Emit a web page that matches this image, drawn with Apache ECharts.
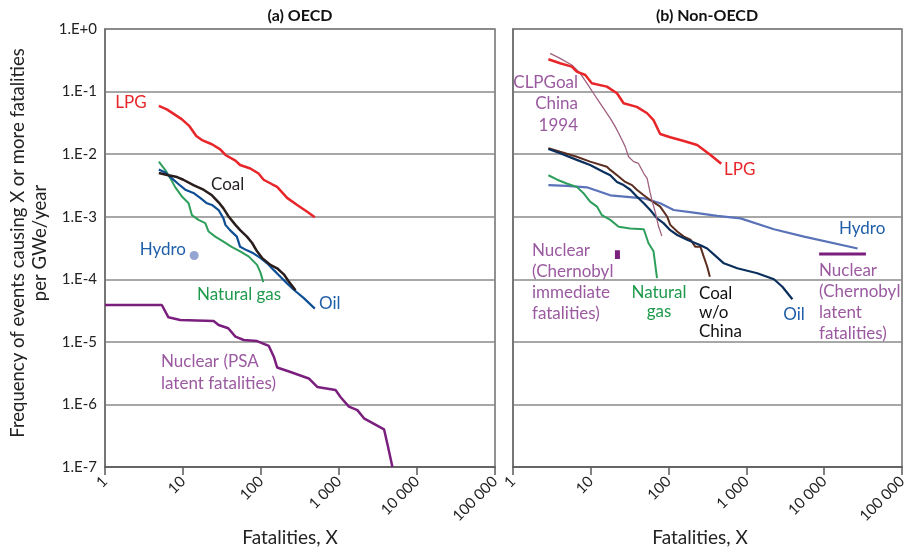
<!DOCTYPE html>
<html>
<head>
<meta charset="utf-8">
<script src="https://cdn.jsdelivr.net/npm/echarts@6/dist/echarts.min.js"></script>
<style>
  html, body { margin: 0; padding: 0; background: #fff; }
  #chart { width: 912px; height: 552px; }
</style>
</head>
<body>
<div id="chart"></div>
<script>
// values, [fatalities, frequency]
const oecdLpg = [[4.9, 0.059], [6.2, 0.052], [7.6, 0.044], [9.7, 0.036], [12.1, 0.028], [14.8, 0.0195], [17.5, 0.0168], [23.5, 0.0144], [30, 0.0119], [35, 0.0097], [47, 0.0079], [54, 0.0067], [73, 0.0059], [93, 0.0049], [108, 0.0039], [139, 0.0033], [161, 0.003], [216, 0.002], [291, 0.00154], [391, 0.0012], [490, 0.00098]]
const oecdCoal = [[4.9, 0.005], [6.5, 0.0046], [8.4, 0.0043], [10.1, 0.0039], [13.6, 0.0032], [18.3, 0.0027], [23.5, 0.0022], [28.6, 0.0017], [33, 0.00136], [38, 0.00103], [47, 0.00074], [54, 0.00061], [66, 0.00048], [77, 0.00038], [89, 0.00028], [103, 0.00022], [132, 0.00017], [161, 0.00015], [196, 0.00012], [227, 0.000092], [277, 0.000067]]
const oecdOil = [[4.9, 0.0057], [5.9, 0.0051], [7.2, 0.0041], [8.8, 0.0033], [10.7, 0.0027], [13.6, 0.0024], [16.6, 0.002], [20.3, 0.00164], [23.5, 0.00154], [28.6, 0.00128], [33, 0.00094], [35, 0.00074], [40, 0.00061], [49, 0.00048], [54, 0.00033], [66, 0.00029], [80, 0.00026], [98, 0.00022], [120, 0.00018], [146, 0.00014], [177, 0.00011], [216, 0.000086], [263, 0.000068], [354, 0.00005], [490, 0.000034]]
const oecdGas = [[4.9, 0.0076], [5.9, 0.0056], [6.9, 0.0041], [7.9, 0.003], [9.7, 0.0021], [11.8, 0.00164], [13, 0.00106], [15.8, 0.00089], [19.3, 0.00079], [21.3, 0.00058], [25.9, 0.00048], [33, 0.0004], [42, 0.00033], [54, 0.00028], [70, 0.00023], [89, 0.00017], [98, 0.00013], [107, 0.00009]]
const oecdHydro = [[13.9, 0.00024]]
const oecdNuclear = [[1, 0.0000388], [5.35, 0.0000388], [6.5, 0.0000247], [9.2, 0.0000224], [24.7, 0.0000215], [28.6, 0.0000186], [38, 0.0000165], [47, 0.0000121], [60, 0.0000107], [89, 0.0000103], [126, 0.0000086], [146, 0.0000058], [161, 0.0000039], [239, 0.0000033], [410, 0.0000026], [526, 0.0000019], [903, 0.0000017], [1050, 0.0000013], [1340, 0.00000092], [1720, 0.00000081], [2090, 0.0000006], [3780, 0.0000004], [4250, 0.00000021], [4840, 0.0000001]]

const nonLpg = [[2.85, 0.328], [4.03, 0.283], [5.7, 0.25], [6.6, 0.208], [8.5, 0.184], [10.3, 0.136], [16.1, 0.12], [21.7, 0.094], [26.4, 0.065], [39, 0.057], [53, 0.045], [64, 0.035], [78, 0.021], [105, 0.0186], [157, 0.0162], [233, 0.014], [346, 0.0097], [475, 0.007]]
const nonCoalChina = [[3, 0.409], [4.03, 0.34], [5.7, 0.266], [7.3, 0.196], [8.9, 0.136], [10.8, 0.094], [13.2, 0.065], [16.1, 0.045], [17.8, 0.0374], [20.6, 0.0275], [22.8, 0.0216], [25.2, 0.0168], [27.7, 0.0132], [30.6, 0.0091], [35.5, 0.0076], [41, 0.0071], [48, 0.0049], [53, 0.0041], [58, 0.0024], [61, 0.00185], [68, 0.00113], [74.5, 0.00069], [82, 0.00049]]
const nonCoal = [[2.85, 0.0124], [4.03, 0.0109], [6.6, 0.0091], [9.8, 0.0076], [16.1, 0.0063], [17.8, 0.0056], [22.8, 0.0044], [27.7, 0.0036], [33.9, 0.0032], [39, 0.0027], [48, 0.0022], [58, 0.00185], [78, 0.00145], [96, 0.001], [105, 0.00074], [129, 0.00058], [157, 0.00048], [191, 0.00043], [221, 0.00033], [257, 0.00033], [283, 0.00023], [313, 0.00016], [339, 0.00011]]
const nonOil = [[2.85, 0.0121], [4.03, 0.0103], [6.6, 0.0081], [9.8, 0.0067], [14.6, 0.0052], [17.8, 0.0046], [21.7, 0.0036], [26.4, 0.0032], [32.2, 0.0027], [39, 0.0021], [48, 0.00164], [58, 0.00128], [71, 0.00094], [86, 0.00079], [105, 0.00061], [129, 0.00051], [173, 0.00043], [257, 0.00035], [313, 0.00031], [381, 0.00025], [513, 0.00018], [763, 0.00015], [1380, 0.000125], [2260, 0.0001], [2900, 0.000076], [3900, 0.000048]]
const nonGas = [[2.85, 0.0046], [3.7, 0.0039], [4.9, 0.0034], [6.6, 0.003], [8, 0.0024], [9.8, 0.00174], [12, 0.00145], [13.9, 0.00106], [17.8, 0.00089], [22.8, 0.00069], [32, 0.00065], [48, 0.00063], [55, 0.00038], [64, 0.00028], [71, 0.000104]]
const nonHydro = [[2.85, 0.0032], [4.9, 0.0031], [8.9, 0.00295], [17.8, 0.0022], [48, 0.00197], [78, 0.00164], [116, 0.00128], [211, 0.00116], [422, 0.00103], [841, 0.00094], [2260, 0.00063], [5510, 0.00048], [26900, 0.00031]]
const chernobylImmediate = [[22, 0.00029], [22, 0.00021]]
const chernobylLatent = [[8600, 0.000254], [34400, 0.000254]]

const FONT = 'Lato'
const RED = '#e8262a'
const BLUE = '#1f5ea8'
const GREEN = '#1f9a4c'
const MAUVE = '#9b5aa0'

function fmtY(v) {
  const e = Math.round(Math.log10(v))
  return '1.E' + (e >= 0 ? '+' : '') + e
}
function fmtX(v) {
  return String(Math.round(v)).replace(/\B(?=(\d{3})+(?!\d))/g, ' ')
}

function xAxisFor(i) {
  return {
    type: 'log', gridIndex: i, min: 1, max: 100000, interval: 1,
    axisLine: { lineStyle: { color: '#5a5a5a', width: 1.5 } },
    axisTick: { show: true, length: 8, lineStyle: { color: '#5a5a5a', width: 1.5 } },
    axisLabel: { rotate: 45, margin: 12, color: '#222', fontFamily: FONT, fontSize: 15, formatter: fmtX },
    splitLine: { show: false }
  }
}
function yAxisFor(i) {
  return {
    type: 'log', gridIndex: i, min: 1e-7, max: 1, interval: 1,
    axisLine: { show: true, lineStyle: { color: '#6e6e6e', width: 1.5 } },
    axisTick: { show: false },
    axisLabel: { show: i === 0, margin: 8, color: '#222', fontFamily: FONT, fontSize: 15, formatter: fmtY },
    splitLine: { show: true, lineStyle: { color: '#8a8a8a', width: 1.5 } }
  }
}
function line(data, i, color, width) {
  return {
    type: 'line', data: data, xAxisIndex: i, yAxisIndex: i,
    showSymbol: false, symbol: 'none', smooth: false,
    lineStyle: { color: color, width: width }
  }
}

function txt(text, x, y, color, opt) {
  return {
    type: 'text', x: x, y: y,
    style: Object.assign({
      text: text, fill: color, font: '17px ' + FONT,
      textAlign: 'left', textVerticalAlign: 'middle'
    }, opt || {})
  }
}

const chart = echarts.init(document.getElementById('chart'), null, { renderer: 'canvas' })
chart.setOption({
  animation: false,
  textStyle: { fontFamily: FONT },
  grid: [
    { left: 105, top: 29, width: 390, height: 438, show: true, borderColor: '#6e6e6e', borderWidth: 1.5 },
    { left: 513, top: 29, width: 389, height: 438, show: true, borderColor: '#6e6e6e', borderWidth: 1.5 }
  ],
  xAxis: [xAxisFor(0), xAxisFor(1)],
  yAxis: [yAxisFor(0), yAxisFor(1)],
  series: [
    line(oecdNuclear, 0, '#7b1f7e', 2.5),
    line(oecdGas, 0, '#2e9e5b', 2),
    line(oecdOil, 0, '#0d4f94', 2.2),
    line(oecdCoal, 0, '#2a1e1c', 2.5),
    line(oecdLpg, 0, RED, 2.5),
    {
      type: 'scatter', data: oecdHydro, xAxisIndex: 0, yAxisIndex: 0,
      symbolSize: 9, itemStyle: { color: '#7b8dc4' }
    },
    line(nonHydro, 1, '#5a72b8', 2.2),
    line(nonGas, 1, '#2e9e5b', 2),
    line(nonCoal, 1, '#5b2e20', 2),
    line(nonOil, 1, '#0a2f5c', 2.2),
    line(nonCoalChina, 1, '#a0607f', 1.3),
    line(nonLpg, 1, RED, 2.5),
    line(chernobylImmediate, 1, '#7b1f7e', 5),
    line(chernobylLatent, 1, '#7b1f7e', 3)
  ],
  graphic: [
    txt('(a) OECD', 300, 16, '#111', { font: 'bold 16px ' + FONT, textAlign: 'center' }),
    txt('(b) Non-OECD', 707, 16, '#111', { font: 'bold 16px ' + FONT, textAlign: 'center' }),
    txt('Fatalities, X', 290, 538, '#222', { font: '19px ' + FONT, textAlign: 'center' }),
    txt('Fatalities, X', 700, 538, '#222', { font: '19px ' + FONT, textAlign: 'center' }),
    {
      type: 'text', x: 29, y: 243, rotation: Math.PI / 2,
      style: {
        text: 'Frequency of events causing X or more fatalities\nper GWe/year',
        fill: '#222', font: '18.5px ' + FONT, textAlign: 'center', textVerticalAlign: 'middle', lineHeight: 22
      }
    },
    // panel (a) labels
    txt('LPG', 131, 103, RED, { textAlign: 'center' }),
    txt('Coal', 211, 185, '#231f20'),
    txt('Hydro', 186, 250, BLUE, { textAlign: 'right' }),
    txt('Natural gas', 197, 295, GREEN),
    txt('Oil', 319, 304, BLUE),
    txt('Nuclear (PSA\nlatent fatalities)', 161, 373, MAUVE, { lineHeight: 22 }),
    // panel (b) labels
    txt('CLPGoal\nChina\n1994', 578, 104, MAUVE, { textAlign: 'right', lineHeight: 21.5 }),
    txt('LPG', 724, 170, RED),
    txt('Hydro', 839, 229, BLUE),
    txt('Nuclear\n(Chernobyl\nimmediate\nfatalities)', 532, 282, MAUVE, { lineHeight: 21 }),
    txt('Natural\ngas', 659, 302, GREEN, { textAlign: 'center', lineHeight: 19 }),
    txt('Coal\nw/o\nChina', 699, 313, '#111', { lineHeight: 19 }),
    txt('Oil', 794, 315, BLUE, { textAlign: 'center' }),
    txt('Nuclear\n(Chernobyl\nlatent\nfatalities)', 819, 302, MAUVE, { lineHeight: 21 })
  ]
})
</script>
</body>
</html>
